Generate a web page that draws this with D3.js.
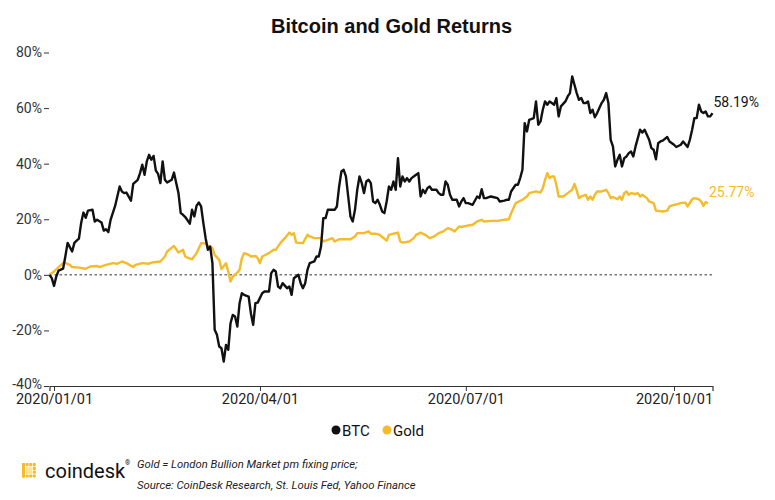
<!DOCTYPE html>
<html>
<head>
<meta charset="utf-8">
<script src="https://cdn.jsdelivr.net/npm/d3@7"></script>
<style>
  body { margin: 0; background: #fff; }
  svg { display: block; font-family: Roboto, "Noto Sans", sans-serif; }
</style>
</head>
<body>
<div id="chart"></div>
<script>
var width = 775;
var height = 500;

// data (percent return since start of year)
var btcDates = ["2019-12-30","2019-12-31","2020-01-01","2020-01-02","2020-01-03","2020-01-05","2020-01-06","2020-01-07","2020-01-09","2020-01-10",
  "2020-01-11","2020-01-12","2020-01-13","2020-01-14","2020-01-15","2020-01-16","2020-01-18","2020-01-19","2020-01-20","2020-01-22",
  "2020-01-23","2020-01-24","2020-01-25","2020-01-26","2020-01-28","2020-01-30","2020-01-31","2020-02-01","2020-02-02","2020-02-04",
  "2020-02-05","2020-02-07","2020-02-08","2020-02-09","2020-02-10","2020-02-11","2020-02-12","2020-02-13","2020-02-14","2020-02-15",
  "2020-02-16","2020-02-17","2020-02-18","2020-02-19","2020-02-20","2020-02-22","2020-02-23","2020-02-24","2020-02-25","2020-02-26",
  "2020-02-27","2020-02-28","2020-03-01","2020-03-02","2020-03-03","2020-03-04","2020-03-05","2020-03-06","2020-03-07","2020-03-08",
  "2020-03-09","2020-03-10","2020-03-11","2020-03-12","2020-03-13","2020-03-14","2020-03-15","2020-03-16","2020-03-17","2020-03-18",
  "2020-03-19","2020-03-20","2020-03-21","2020-03-22","2020-03-23","2020-03-24","2020-03-25","2020-03-27","2020-03-28","2020-03-29",
  "2020-03-30","2020-03-31","2020-04-02","2020-04-03","2020-04-05","2020-04-06","2020-04-07","2020-04-08","2020-04-09","2020-04-10",
  "2020-04-11","2020-04-13","2020-04-14","2020-04-15","2020-04-16","2020-04-17","2020-04-18","2020-04-19","2020-04-20","2020-04-21",
  "2020-04-22","2020-04-23","2020-04-25","2020-04-26","2020-04-27","2020-04-28","2020-04-29","2020-04-30","2020-05-01","2020-05-03",
  "2020-05-04","2020-05-05","2020-05-06","2020-05-07","2020-05-08","2020-05-09","2020-05-10","2020-05-11","2020-05-12","2020-05-13",
  "2020-05-14","2020-05-15","2020-05-16","2020-05-17","2020-05-18","2020-05-19","2020-05-20","2020-05-21","2020-05-22","2020-05-23",
  "2020-05-24","2020-05-25","2020-05-26","2020-05-27","2020-05-28","2020-05-29","2020-05-30","2020-05-31","2020-06-01","2020-06-02",
  "2020-06-03","2020-06-04","2020-06-05","2020-06-06","2020-06-07","2020-06-09","2020-06-10","2020-06-11","2020-06-12","2020-06-13",
  "2020-06-14","2020-06-15","2020-06-16","2020-06-18","2020-06-19","2020-06-20","2020-06-21","2020-06-22","2020-06-23","2020-06-24",
  "2020-06-25","2020-06-27","2020-06-28","2020-06-29","2020-06-30","2020-07-01","2020-07-02","2020-07-04","2020-07-06","2020-07-07",
  "2020-07-08","2020-07-09","2020-07-10","2020-07-12","2020-07-13","2020-07-15","2020-07-16","2020-07-18","2020-07-19","2020-07-20",
  "2020-07-21","2020-07-23","2020-07-24","2020-07-25","2020-07-26","2020-07-27","2020-07-28","2020-07-29","2020-07-31","2020-08-01",
  "2020-08-02","2020-08-03","2020-08-04","2020-08-05","2020-08-06","2020-08-07","2020-08-08","2020-08-09","2020-08-10","2020-08-11",
  "2020-08-12","2020-08-14","2020-08-15","2020-08-16","2020-08-17","2020-08-18","2020-08-19","2020-08-20","2020-08-21","2020-08-22",
  "2020-08-23","2020-08-24","2020-08-25","2020-08-26","2020-08-27","2020-08-28","2020-08-29","2020-08-30","2020-08-31","2020-09-01",
  "2020-09-02","2020-09-03","2020-09-04","2020-09-05","2020-09-06","2020-09-07","2020-09-08","2020-09-09","2020-09-10","2020-09-11",
  "2020-09-12","2020-09-13","2020-09-14","2020-09-15","2020-09-16","2020-09-17","2020-09-18","2020-09-19","2020-09-20","2020-09-21",
  "2020-09-22","2020-09-23","2020-09-24","2020-09-25","2020-09-26","2020-09-28","2020-09-29","2020-10-01","2020-10-02","2020-10-04",
  "2020-10-05","2020-10-07","2020-10-08","2020-10-09","2020-10-10","2020-10-11","2020-10-12","2020-10-13","2020-10-14","2020-10-15",
  "2020-10-16","2020-10-17","2020-10-18"];
var btcValues = [0,-1.2,-4.0,-0.6,1.5,2.2,6.6,11.5,8.4,11.5,
  12.3,13.0,18.7,22.4,20.5,23.1,23.4,19.2,19.8,18.8,
  15.9,16.4,15.4,19.8,24.8,31.8,30.0,29.4,29.6,26.7,
  32.7,34.2,36.6,39.6,36.0,40.8,43.2,41.4,42.8,37.5,
  36.3,33.0,40.8,34.2,33.2,34.2,36.8,33.0,29.4,22.2,
  21.6,20.8,18.4,23.4,21.0,24.9,26.0,24.6,18.6,13.2,
  9.0,10.2,4.2,-19.8,-21.6,-25.8,-26.4,-31.2,-25.2,-27.0,
  -17.4,-14.4,-15.0,-18.6,-10.2,-6.6,-7.2,-7.8,-13.8,-18.0,
  -10.2,-10.0,-6.6,-6.0,-6.0,0.6,1.8,1.2,-4.2,-4.8,
  -3.0,-4.8,-4.2,-7.2,-1.2,-0.6,0.0,-3.0,-4.8,-3.0,
  1.8,4.2,4.8,6.6,6.6,10.2,20.4,20.4,23.4,23.4,
  23.4,24.6,31.8,37.2,37.8,35.4,28.2,21.0,19.2,23.4,
  30.6,35.4,33.0,29.4,33.6,34.2,33.0,26.4,25.8,27.0,
  25.2,22.8,22.2,26.4,31.8,30.6,33.6,30.6,42.0,31.8,
  35.4,33.6,34.8,33.6,34.8,36.0,36.6,28.2,30.6,29.4,
  31.2,31.8,30.6,30.6,29.4,28.8,28.8,33.6,32.4,28.8,
  27.0,27.0,24.6,26.4,27.6,25.8,25.8,25.2,28.2,27.6,
  30.8,27.6,27.6,28.2,28.0,27.6,26.4,26.7,27.0,27.0,
  30.0,32.4,32.4,34.8,37.8,54.6,51.6,55.8,56.4,62.4,
  54.0,55.2,59.4,62.4,61.2,62.4,61.8,61.2,63.6,57.0,
  60.6,62.4,64.2,65.4,71.4,68.4,65.4,63.0,63.6,61.8,
  61.8,62.4,58.2,59.4,56.7,58.2,60.0,61.8,63.0,65.4,
  61.8,48.6,46.2,39.0,41.4,43.2,39.0,42.0,42.6,43.8,
  44.4,42.6,46.2,49.2,52.2,51.2,52.2,50.4,48.6,45.6,
  45.0,41.6,47.4,48.0,48.3,49.6,48.0,46.8,46.0,46.8,
  48.0,46.0,48.6,52.2,56.4,56.4,61.2,58.8,58.2,58.8,
  57.0,57.0,58.19];

var goldDates = ["2019-12-30","2020-01-01","2020-01-03","2020-01-05","2020-01-06","2020-01-08","2020-01-09","2020-01-12","2020-01-15","2020-01-17",
  "2020-01-20","2020-01-21","2020-01-24","2020-01-27","2020-01-29","2020-01-31","2020-02-02","2020-02-05","2020-02-06","2020-02-09",
  "2020-02-12","2020-02-13","2020-02-15","2020-02-17","2020-02-19","2020-02-20","2020-02-23","2020-02-24","2020-02-25","2020-02-27",
  "2020-02-28","2020-02-29","2020-03-02","2020-03-04","2020-03-06","2020-03-08","2020-03-09","2020-03-11","2020-03-12","2020-03-14",
  "2020-03-15","2020-03-17","2020-03-18","2020-03-19","2020-03-20","2020-03-22","2020-03-23","2020-03-24","2020-03-25","2020-03-27",
  "2020-03-28","2020-03-30","2020-03-31","2020-04-01","2020-04-02","2020-04-05","2020-04-07","2020-04-08","2020-04-10","2020-04-12",
  "2020-04-14","2020-04-15","2020-04-16","2020-04-17","2020-04-20","2020-04-22","2020-04-23","2020-04-25","2020-04-28","2020-04-29",
  "2020-05-01","2020-05-03","2020-05-04","2020-05-06","2020-05-08","2020-05-11","2020-05-13","2020-05-14","2020-05-17","2020-05-19",
  "2020-05-20","2020-05-22","2020-05-24","2020-05-25","2020-05-27","2020-05-28","2020-05-31","2020-06-01","2020-06-02","2020-06-03",
  "2020-06-06","2020-06-08","2020-06-09","2020-06-11","2020-06-13","2020-06-15","2020-06-17","2020-06-19","2020-06-21","2020-06-23",
  "2020-06-25","2020-06-26","2020-06-28","2020-06-29","2020-07-01","2020-07-04","2020-07-06","2020-07-08","2020-07-09","2020-07-12",
  "2020-07-15","2020-07-18","2020-07-20","2020-07-21","2020-07-23","2020-07-26","2020-07-28","2020-07-29","2020-08-01","2020-08-03",
  "2020-08-04","2020-08-05","2020-08-06","2020-08-07","2020-08-08","2020-08-09","2020-08-10","2020-08-11","2020-08-13","2020-08-15",
  "2020-08-17","2020-08-18","2020-08-19","2020-08-20","2020-08-21","2020-08-23","2020-08-24","2020-08-25","2020-08-26","2020-08-27",
  "2020-08-28","2020-08-30","2020-09-01","2020-09-02","2020-09-03","2020-09-04","2020-09-06","2020-09-07","2020-09-08","2020-09-09",
  "2020-09-10","2020-09-11","2020-09-12","2020-09-14","2020-09-15","2020-09-16","2020-09-17","2020-09-19","2020-09-20","2020-09-22",
  "2020-09-23","2020-09-26","2020-09-28","2020-09-29","2020-10-01","2020-10-04","2020-10-06","2020-10-07","2020-10-09","2020-10-10",
  "2020-10-12","2020-10-13","2020-10-14","2020-10-15","2020-10-16"];
var goldValues = [0,1.2,2.8,4.2,4.2,3.6,2.8,2.6,2.2,3.0,
  3.2,2.8,3.6,4.2,4.0,4.8,4.2,2.8,3.6,4.2,
  4.0,4.4,4.6,4.8,6.6,8.4,10.4,9.2,8.0,9.0,
  6.6,6.2,5.6,7.8,11.4,11.3,10.4,9.6,7.2,5.4,
  2.1,4.2,1.2,-2.4,-0.6,0.8,1.8,6.0,7.8,7.2,
  6.6,6.8,6.0,4.2,6.6,7.8,9.0,9.0,11.4,13.2,
  15.2,14.4,15.0,11.6,11.4,14.4,13.8,13.2,13.2,12.0,
  12.6,13.2,12.0,12.8,12.8,12.8,13.8,15.0,15.0,15.6,
  14.8,14.8,14.4,13.6,12.3,14.4,15.0,15.2,12.0,11.6,
  12.0,13.2,14.4,15.2,14.4,13.2,13.8,15.0,15.6,16.8,
  16.2,15.6,17.4,17.2,17.6,18.0,19.2,19.8,19.2,19.4,
  19.4,19.8,20.0,22.2,25.8,27.0,28.2,29.4,30.0,29.6,
  31.2,34.2,36.6,34.8,35.4,35.4,32.4,28.2,28.2,29.4,
  30.6,32.7,30.3,27.6,28.2,28.8,27.0,28.2,27.0,28.8,
  30.0,30.0,30.6,29.4,27.6,28.0,27.2,28.2,27.0,29.4,
  30.0,28.8,29.4,29.1,29.4,28.2,28.8,27.6,26.4,25.8,
  23.1,22.8,23.1,24.6,25.2,25.8,26.0,24.6,27.2,27.6,
  27.2,26.4,24.8,26.2,25.77];

var seriesNames = ["BTC", "Gold"];
var seriesColors = ["#111111", "#f4bb2a"];
var yTicks = [-40, -20, 0, 20, 40, 60, 80];
var xTicks = ["2020-01-01", "2020-04-01", "2020-07-01", "2020-10-01"];
var xDomain = ["2019-12-30", "2020-10-18"];

var parseDate = d3.timeParse("%Y-%m-%d");
var fmtDate = d3.timeFormat("%Y/%m/%d");

var btc = btcDates.map(function(d, i) { return { date: parseDate(d), value: btcValues[i] }; });
var gold = goldDates.map(function(d, i) { return { date: parseDate(d), value: goldValues[i] }; });

var svg = d3.select("#chart").append("svg")
    .attr("width", width)
    .attr("height", height);

var x = d3.scaleTime()
    .domain(xDomain.map(parseDate))
    .range([49.5, 712.5]);

var y = d3.scaleLinear()
    .domain([-40, 80])
    .range([386, 52.5]);

// title
svg.append("text")
    .attr("x", width / 2 + 4)
    .attr("y", 33)
    .attr("text-anchor", "middle")
    .style("font-family", "'Liberation Sans', Arial, sans-serif")
    .style("font-size", "20px")
    .style("font-weight", "700")
    .style("fill", "#111")
    .text("Bitcoin and Gold Returns");

// y axis, ticks and labels only
var yAxis = svg.append("g")
    .attr("transform", "translate(49,0)")
    .call(d3.axisLeft(y).tickValues(yTicks).tickSize(5).tickPadding(2)
      .tickFormat(function(d) { return d + "%"; }));
yAxis.select(".domain").remove();
yAxis.selectAll("line").attr("stroke", "#333");
yAxis.selectAll("text")
    .style("font-size", "14px")
    .style("fill", "#333")
    .style("font-family", "Roboto, sans-serif");
// lift the bottom label a touch so it clears the date below it
yAxis.selectAll(".tick").filter(function(d) { return d == -40; })
    .select("text").attr("dy", "0.2em");

// x axis
var xAxis = svg.append("g")
    .attr("transform", "translate(0,386)")
    .call(d3.axisBottom(x).tickValues(xTicks.map(parseDate)).tickSize(5).tickPadding(3)
      .tickFormat(fmtDate));
xAxis.select(".domain").attr("stroke", "#333").attr("stroke-width", 1.2);
xAxis.selectAll("line").attr("stroke", "#333");
xAxis.selectAll("text")
    .style("font-size", "14.5px")
    .style("fill", "#222")
    .style("font-family", "Roboto, sans-serif");

// zero line
svg.append("line")
    .attr("x1", x.range()[0])
    .attr("x2", x.range()[1])
    .attr("y1", y(0))
    .attr("y2", y(0))
    .attr("stroke", "#333")
    .attr("stroke-width", 1)
    .attr("stroke-dasharray", "2.5,2.5");

var line = d3.line()
    .x(function(d) { return x(d.date); })
    .y(function(d) { return y(d.value); });

[gold, btc].forEach(function(s, i) {
  var col = i == 0 ? seriesColors[1] : seriesColors[0];
  svg.append("path")
      .datum(s)
      .attr("d", line)
      .attr("fill", "none")
      .attr("stroke", col)
      .attr("stroke-width", 2.4)
      .attr("stroke-linejoin", "round");
});

// end labels
var lastBtc = btc[btc.length - 1];
var lastGold = gold[gold.length - 1];
svg.append("text")
    .attr("x", x(lastBtc.date) + 1)
    .attr("y", y(lastBtc.value) - 6)
    .style("font-size", "14px")
    .style("fill", "#111")
    .text(lastBtc.value.toFixed(2) + "%");
svg.append("text")
    .attr("x", x(lastGold.date) + 1)
    .attr("y", y(lastGold.value) - 6)
    .style("font-size", "14px")
    .style("fill", seriesColors[1])
    .text(lastGold.value.toFixed(2) + "%");

// legend
var legend = svg.append("g").attr("transform", "translate(336,430)");
var lx = [0, 51];
seriesNames.forEach(function(name, i) {
  legend.append("circle")
      .attr("cx", lx[i])
      .attr("cy", 0)
      .attr("r", 4.5)
      .attr("fill", seriesColors[i]);
  legend.append("text")
      .attr("x", lx[i] + 6)
      .attr("y", 5.5)
      .style("font-size", "15px")
      .style("fill", "#111")
      .text(name);
});

// coindesk logo, rough version of the dotted square
var logo = svg.append("g").attr("transform", "translate(22,463)");
var cells = [[0,0],[1,0],[2,0],[3,0],[0,1],[0,2],[0,3],[1,3],[2,3],[3,3],[3,1],[3,2]];
cells.forEach(function(c) {
  logo.append("rect")
      .attr("x", c[0] * 3.6)
      .attr("y", c[1] * 3.8)
      .attr("width", 3)
      .attr("height", 3.2)
      .attr("rx", 0.8)
      .attr("fill", "#f4bb2a");
});
logo.append("rect").attr("x", 3.6).attr("y", 3.8).attr("width", 6.6).attr("height", 7)
    .attr("fill", "#fbe2a2");
logo.append("rect").attr("x", 0).attr("y", 0).attr("width", 3).attr("height", 14.6)
    .attr("fill", "#f4bb2a");

svg.append("text")
    .attr("x", 45)
    .attr("y", 478)
    .style("font-size", "20px")
    .style("fill", "#111")
    .text("coindesk");
svg.append("text")
    .attr("x", 125)
    .attr("y", 465)
    .style("font-size", "6.5px")
    .style("fill", "#111")
    .text("®");

// footnote
var note = svg.append("g")
    .style("font-size", "11.3px")
    .style("font-style", "italic")
    .style("fill", "#222");
note.append("text").attr("x", 137).attr("y", 468)
    .text("Gold = London Bullion Market pm fixing price;");
note.append("text").attr("x", 137).attr("y", 489)
    .text("Source: CoinDesk Research, St. Louis Fed, Yahoo Finance");
</script>
</body>
</html>
